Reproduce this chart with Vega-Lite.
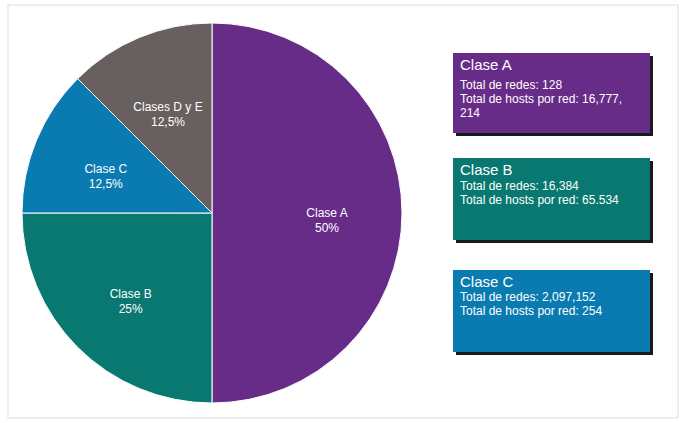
{
  "$schema": "https://vega.github.io/schema/vega-lite/v6.json",
  "width": 680,
  "height": 423,
  "padding": 0,
  "autosize": {"type": "fit", "contains": "padding"},
  "background": "white",
  "config": {"view": {"stroke": null}, "font": "Liberation Sans"},
  "datasets": {
    "frame": [{"x": 8, "x2": 678, "y": 5, "y2": 418}],
    "slices": [
      {"clase": "Clase A", "pct": 50, "label": "Clase A\n50%", "cx": 212, "cy": 213},
      {"clase": "Clase B", "pct": 25, "label": "Clase B\n25%", "cx": 212, "cy": 213},
      {"clase": "Clase C", "pct": 12.5, "label": "Clase C\n12,5%", "cx": 212, "cy": 213},
      {"clase": "Clases D y E", "pct": 12.5, "label": "Clases D y E\n12,5%", "cx": 212, "cy": 213}
    ],
    "boxes": [
      {"clase": "Clase A", "x": 453, "x2": 650, "y": 53, "y2": 133, "by": 80, "body": "Total de redes: 128\nTotal de hosts por red: 16,777,\n214"},
      {"clase": "Clase B", "x": 453, "x2": 650, "y": 158, "y2": 240, "by": 181, "body": "Total de redes: 16,384\nTotal de hosts por red: 65.534"},
      {"clase": "Clase C", "x": 453, "x2": 650, "y": 270, "y2": 352, "by": 292, "body": "Total de redes: 2,097,152\nTotal de hosts por red: 254"}
    ]
  },
  "resolve": {"scale": {"x": "shared", "y": "shared"}},
  "encoding": {
    "x": {"type": "quantitative", "scale": {"domain": [0, 680], "nice": false, "zero": false}, "axis": null},
    "y": {"type": "quantitative", "scale": {"domain": [0, 423], "nice": false, "zero": false, "reverse": true}, "axis": null}
  },
  "layer": [
    {
      "data": {"name": "frame"},
      "mark": {"type": "rect", "fill": "white", "stroke": "#dddddd", "strokeWidth": 1},
      "encoding": {"x": {"field": "x"}, "x2": {"field": "x2"}, "y": {"field": "y"}, "y2": {"field": "y2"}}
    },
    {
      "data": {"name": "boxes"},
      "mark": {"type": "rect", "fill": "#1a1a1a", "xOffset": 3, "yOffset": 3, "x2Offset": 3, "y2Offset": 3},
      "encoding": {"x": {"field": "x"}, "x2": {"field": "x2"}, "y": {"field": "y"}, "y2": {"field": "y2"}}
    },
    {
      "data": {"name": "boxes"},
      "mark": {"type": "rect"},
      "encoding": {
        "x": {"field": "x"}, "x2": {"field": "x2"}, "y": {"field": "y"}, "y2": {"field": "y2"},
        "color": {"field": "clase", "type": "nominal", "legend": null,
          "scale": {"domain": ["Clase A", "Clase B", "Clase C", "Clases D y E"], "range": ["#672c88", "#087870", "#0a7bb0", "#67605f"]}}
      }
    },
    {
      "data": {"name": "boxes"},
      "mark": {"type": "text", "align": "left", "baseline": "top", "dx": 7, "dy": 5, "fontSize": 15, "color": "white"},
      "encoding": {"x": {"field": "x"}, "y": {"field": "y"}, "text": {"field": "clase"}}
    },
    {
      "data": {"name": "boxes"},
      "mark": {"type": "text", "align": "left", "baseline": "top", "dx": 7, "fontSize": 12, "lineHeight": 14, "lineBreak": "\n", "color": "white"},
      "encoding": {"x": {"field": "x"}, "y": {"field": "by"}, "text": {"field": "body"}}
    },
    {
      "data": {"name": "slices"},
      "mark": {"type": "arc", "radius": 190, "stroke": "white", "strokeWidth": 1},
      "encoding": {
        "x": {"field": "cx"}, "y": {"field": "cy"},
        "theta": {"field": "pct", "type": "quantitative", "stack": true, "scale": {"type": "linear", "domain": [0, 100], "range": [0, 6.2832]}},
        "order": {"field": "pct", "sort": "descending"},
        "color": {"field": "clase", "type": "nominal", "legend": null}
      }
    },
    {
      "data": {"name": "slices"},
      "mark": {"type": "text", "radius": 115, "fontSize": 12, "color": "white", "lineBreak": "\n", "lineHeight": 15},
      "encoding": {
        "x": {"field": "cx"}, "y": {"field": "cy"},
        "theta": {"field": "pct", "type": "quantitative", "stack": true, "scale": {"type": "linear", "domain": [0, 100], "range": [0, 6.2832]}},
        "order": {"field": "pct", "sort": "descending"},
        "text": {"field": "label"}
      }
    }
  ]
}
